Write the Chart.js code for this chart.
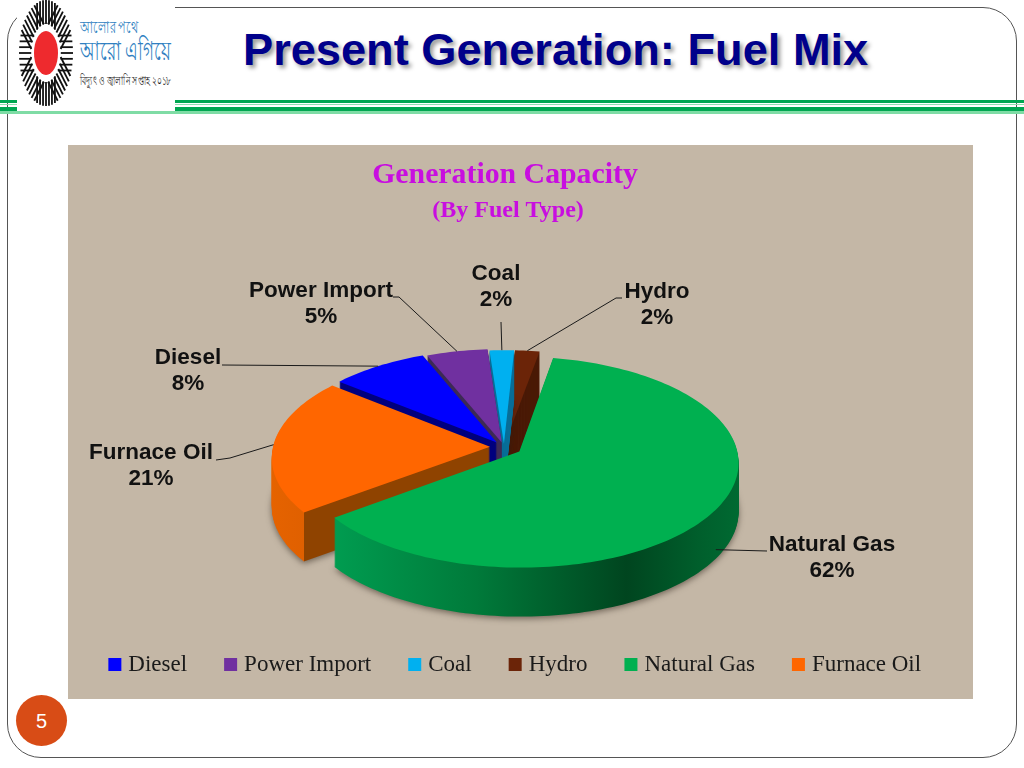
<!DOCTYPE html>
<html>
<head>
<meta charset="utf-8">
<title>Present Generation: Fuel Mix</title>
<script src="https://cdn.jsdelivr.net/npm/chart.js@4"></script>
<style>
html, body { margin: 0; padding: 0; background: #fff; overflow: hidden; }
#slide { position: absolute; left: 0; top: 0; width: 1024px; height: 768px; }
#frame { position: absolute; left: 7px; top: 7px; width: 1008px; height: 749px; border: 1px solid #555; border-radius: 34px; }
.rule { position: absolute; left: 0; width: 1024px; }
#logoBox { position: absolute; left: 17px; top: 0; width: 158px; height: 111px; background: #fff; }
#heading { position: absolute; left: 243px; top: 24px; margin: 0; white-space: nowrap; font: bold 45.2px "Liberation Sans", Arial, sans-serif; color: #00008b; text-shadow: 3px 3px 4px #9a9a9a; }
#panel { position: absolute; left: 68px; top: 145px; width: 905px; height: 554px; background: #c4b7a6; }
#pageNo { position: absolute; left: 16px; top: 695px; width: 51px; height: 51px; border-radius: 50%; background: #d84c16; color: #fff; font: 20px/53px "Liberation Sans", Arial, sans-serif; text-align: center; }
canvas { position: absolute; left: 0; top: 0; }
</style>
</head>
<body>
<div id="slide">
  <div id="frame"></div>
  <div class="rule" style="top:100px;height:3px;background:#00a651"></div>
  <div class="rule" style="top:104px;height:1px;background:#8fe0b0"></div>
  <div class="rule" style="top:107px;height:4px;background:#00a651"></div>
  <div class="rule" style="top:111px;height:3px;background:#7fdca5"></div>
  <div id="logoBox">
    <svg id="logo" width="158" height="111" viewBox="0 0 158 111">
      <ellipse cx="29" cy="53" rx="12" ry="22" fill="#ee2a2e"/>
      <g font-family="Noto Sans, Liberation Sans, sans-serif" fill="#2f7fc1">
        <text x="63" y="33" font-size="17" textLength="58" lengthAdjust="spacingAndGlyphs">আলোর পথে</text>
        <text x="63" y="60" font-size="27" textLength="91" lengthAdjust="spacingAndGlyphs">আরো এগিয়ে</text>
        <text x="63" y="85" font-size="13" fill="#222" textLength="91" lengthAdjust="spacingAndGlyphs">বিদ্যুৎ ও জ্বালানি সপ্তাহ ২০১৮</text>
      </g>
    </svg>
  </div>
  <h1 id="heading">Present Generation: Fuel Mix</h1>
  <div id="panel"></div>
  <div id="pageNo">5</div>
  <canvas id="fuelChart" width="1024" height="768"></canvas>
</div>
<script>
var fuelLabels = ['Diesel', 'Power Import', 'Coal', 'Hydro', 'Natural Gas', 'Furnace Oil'];
var fuelShares = [8, 5, 2, 2, 62, 21];
var fuelColors = ['#0000ff', '#7030a0', '#00b0f0', '#6b2408', '#00b050', '#ff6600'];
var wallColors = ['#00007e', '#3d2a55', '#0a6f98', '#4a1a06', '#005f2c', '#8f4300'];
var sliceOffsets = [12, 10, 7, 7, 18, 14];

// pie projection, fitted by eye to the reference
var pieCx = 504, pieCy = 447, pieSquash = 0.477, piePerspective = 0.1, pieDepth = 49;
var pieRotation = -51;

// where the label text sits, and where its leader line leaves the text
var labelCentres = [[188, 358], [321, 291], [496, 274], [657, 292], [832, 545], [151, 453]];
var leaderStarts = [[[222, 365]], [[393, 297], [399, 297]], [[501, 322]], [[622, 298], [616, 298]], [[767, 551]], [[216, 460], [230, 458]]];

// unit disc -> screen
function project(u, v, r) {
  var k = 1 / (1 - piePerspective * v);
  return [pieCx + r * u * k, pieCy + r * pieSquash * v * k];
}

function sliceCentre(el) {
  var mid = (el.startAngle + el.endAngle) / 2;
  var off = el.options.offset / el.outerRadius;
  return [Math.cos(mid) * off, Math.sin(mid) * off];
}

function slicePoints(el) {
  var c = sliceCentre(el), r = el.outerRadius;
  var pts = [project(c[0], c[1], r)];
  var steps = Math.ceil((el.endAngle - el.startAngle) * 40);
  for (var i = 0; i <= steps; i++) {
    var a = el.startAngle + (el.endAngle - el.startAngle) * i / steps;
    pts.push(project(c[0] + Math.cos(a), c[1] + Math.sin(a), r));
  }
  return pts;
}

function rimPoint(el) {
  var c = sliceCentre(el), mid = (el.startAngle + el.endAngle) / 2;
  return project(c[0] + Math.cos(mid), c[1] + Math.sin(mid), el.outerRadius);
}

function fillPoly(ctx, pts, dy) {
  ctx.beginPath();
  pts.forEach(function(p, i) {
    if (i === 0) ctx.moveTo(p[0], p[1] + dy); else ctx.lineTo(p[0], p[1] + dy);
  });
  ctx.closePath();
  ctx.fill();
}

function wallFill(ctx, idx, pts) {
  if (fuelLabels[idx] === 'Natural Gas') {
    var g = ctx.createLinearGradient(335, 0, 740, 0);
    g.addColorStop(0, '#009c50');
    g.addColorStop(0.35, '#007a3a');
    g.addColorStop(0.72, '#00451f');
    g.addColorStop(0.9, '#005f2c');
    g.addColorStop(1, '#006a32');
    return g;
  }
  if (fuelLabels[idx] === 'Furnace Oil') {
    // outer wall is bright up to the point where the cut face starts
    var tip = pts[1][0];
    var o = ctx.createLinearGradient(tip - 50, 0, tip + 50, 0);
    o.addColorStop(0, '#e86400');
    o.addColorStop(0.5, '#e06000');
    o.addColorStop(0.5, wallColors[idx]);
    o.addColorStop(1, wallColors[idx]);
    return o;
  }
  return wallColors[idx];
}

var pie3d = {
  id: 'pie3d',
  afterLayout: function(chart) {
    chart.boxes.forEach(function(b) {
      if (b.options && b.options.text === 'Generation Capacity') { b.left -= 7; b.right -= 7; }
      if (b.options && b.options.text === '(By Fuel Type)') { b.left -= 4; b.right -= 4; }
    });
    chart.legend.left += 5;
    chart.legend.right += 5;
  },
  beforeDatasetDraw: function(chart, args) {
    var ctx = chart.ctx, arcs = args.meta.data;
    // back slices first, the big front slices last
    [3, 2, 1, 0, 5, 4].forEach(function(i) {
      var el = arcs[i], pts = slicePoints(el);
      ctx.save();
      ctx.fillStyle = wallFill(ctx, i, pts);
      for (var d = pieDepth; d >= 1; d--) {
        if (d === pieDepth) {
          ctx.shadowColor = 'rgba(40,30,20,0.55)';
          ctx.shadowBlur = 6;
          ctx.shadowOffsetY = 2;
        } else {
          ctx.shadowColor = 'transparent';
        }
        fillPoly(ctx, pts, d);
      }
      ctx.fillStyle = el.options.backgroundColor;
      fillPoly(ctx, pts, 0);
      ctx.restore();
    });
    return false;
  },
  afterDatasetsDraw: function(chart) {
    var ctx = chart.ctx, arcs = chart.getDatasetMeta(0).data;
    ctx.save();
    ctx.strokeStyle = '#1a1a1a';
    ctx.lineWidth = 1;
    arcs.forEach(function(el, i) {
      var p = rimPoint(el), y = fuelLabels[i] === 'Natural Gas' ? p[1] + pieDepth - 9 : p[1];
      ctx.beginPath();
      leaderStarts[i].forEach(function(s, n) {
        if (n === 0) ctx.moveTo(s[0], s[1]); else ctx.lineTo(s[0], s[1]);
      });
      ctx.lineTo(p[0], y);
      ctx.stroke();
    });
    ctx.fillStyle = '#111';
    ctx.font = 'bold 22.5px "Liberation Sans", Arial, sans-serif';
    ctx.textAlign = 'center';
    ctx.textBaseline = 'middle';
    arcs.forEach(function(el, i) {
      ctx.fillText(fuelLabels[i], labelCentres[i][0], labelCentres[i][1]);
      ctx.fillText(fuelShares[i] + '%', labelCentres[i][0], labelCentres[i][1] + 26);
    });
    ctx.restore();
  }
};

new Chart(document.getElementById('fuelChart').getContext('2d'), {
  type: 'pie',
  data: {
    labels: fuelLabels,
    datasets: [{
      data: fuelShares,
      backgroundColor: fuelColors,
      offset: sliceOffsets,
      borderWidth: 0
    }]
  },
  plugins: [pie3d],
  options: {
    responsive: false,
    animation: false,
    events: [],
    rotation: pieRotation,
    radius: 217,
    layout: { padding: { top: 157, bottom: 82 } },
    plugins: {
      tooltip: { enabled: false },
      title: {
        display: true,
        text: 'Generation Capacity',
        color: '#c80ee0',
        font: { family: '"Liberation Serif", serif', size: 29.8, weight: 'bold' },
        padding: { top: 0, bottom: 4 }
      },
      subtitle: {
        display: true,
        text: '(By Fuel Type)',
        color: '#c80ee0',
        font: { family: '"Liberation Serif", serif', size: 24, weight: 'bold' },
        padding: { top: 0, bottom: 0 }
      },
      legend: {
        position: 'bottom',
        labels: {
          color: '#1a1a1a',
          font: { family: '"Liberation Serif", serif', size: 23 },
          usePointStyle: true,
          pointStyle: 'rect',
          boxWidth: 4,
          boxHeight: 13,
          padding: 41.5
        }
      }
    }
  }
});

// logo sunburst: eight fans of parallel stripes round the red disc
var logoSvg = document.getElementById('logo');
for (var fan = 0; fan < 8; fan++) {
  var t = fan * Math.PI / 4;
  for (var j = -3; j <= 3; j++) {
    var s = j * 0.11;
    var t0 = Math.sqrt(0.3 - s * s), t1 = Math.sqrt(1 - s * s);
    var line = document.createElementNS('http://www.w3.org/2000/svg', 'line');
    line.setAttribute('x1', 29 + 27 * (Math.cos(t) * t0 - Math.sin(t) * s));
    line.setAttribute('y1', 53 + 53 * (Math.sin(t) * t0 + Math.cos(t) * s));
    line.setAttribute('x2', 29 + 27 * (Math.cos(t) * t1 - Math.sin(t) * s));
    line.setAttribute('y2', 53 + 53 * (Math.sin(t) * t1 + Math.cos(t) * s));
    line.setAttribute('stroke', '#111');
    line.setAttribute('stroke-width', '1.8');
    logoSvg.appendChild(line);
  }
}
</script>
</body>
</html>
